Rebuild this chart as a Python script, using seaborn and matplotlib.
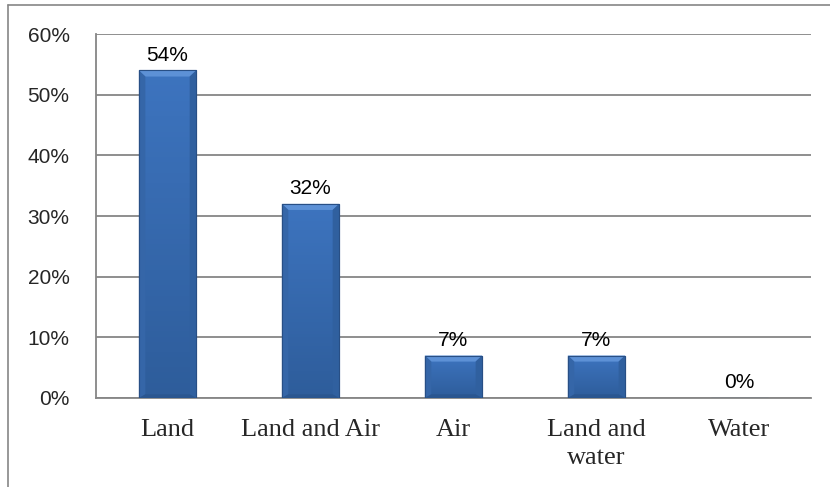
import matplotlib
matplotlib.use("Agg")
import matplotlib.pyplot as plt
import matplotlib.ticker as mtick
from matplotlib.lines import Line2D
from matplotlib.patches import Polygon
from matplotlib.colors import LinearSegmentedColormap
import numpy as np
import pandas as pd
import seaborn as sns

# Data
categories = ["Land", "Land and Air", "Air", "Land and\nwater", "Water"]
shares = [54, 32, 7, 7, 0]
bar_labels = ["54%", "32%", "7%", "7%", "0%"]
y_ticks = [0, 10, 20, 30, 40, 50, 60]

df = pd.DataFrame({"mode": categories, "share": shares})

sns.set_style("white")
plt.rcParams["font.family"] = ["Liberation Sans", "DejaVu Sans"]

grey = "#868686"

fig = plt.figure(figsize=(8.3, 4.87), dpi=100)
ax = fig.add_axes([0.1157, 0.1828, 0.977 - 0.1157, 0.930 - 0.1828])

sns.barplot(data=df, x="mode", y="share", color="#3A6EB6", width=0.4,
            saturation=1, edgecolor="#2a5a96", linewidth=0.8, ax=ax, zorder=3)

# bevelled look like the Excel original
body = LinearSegmentedColormap.from_list("body", ["#2e5d9b", "#3d74bf"])
dx, dy = 0.045, 1.0
for patch in ax.patches:
    x0, y0 = patch.get_x(), patch.get_y()
    w, h = patch.get_width(), patch.get_height()
    if h <= 0:
        continue
    x1, y1 = x0 + w, y0 + h
    im = ax.imshow(np.linspace(0, 1, 64).reshape(-1, 1), cmap=body, aspect="auto",
                   origin="lower", extent=[x0, x1, y0, y1], zorder=3.5)
    im.set_clip_path(patch)
    bevels = [
        ([(x0, y1), (x1, y1), (x1 - dx, y1 - dy), (x0 + dx, y1 - dy)], "#5d91d6"),
        ([(x0, y1), (x0 + dx, y1 - dy), (x0 + dx, y0 + dy * 0.6), (x0, y0)], "#3566a8"),
        ([(x1, y1), (x1 - dx, y1 - dy), (x1 - dx, y0 + dy * 0.6), (x1, y0)], "#30609f"),
        ([(x0, y0), (x0 + dx, y0 + dy * 0.6), (x1 - dx, y0 + dy * 0.6), (x1, y0)], "#2a5690"),
    ]
    for pts, c in bevels:
        ax.add_patch(Polygon(pts, closed=True, facecolor=c, edgecolor="none", zorder=3.7))
    ax.add_patch(Polygon([(x0, y0), (x0, y1), (x1, y1), (x1, y0)], closed=True,
                         facecolor="none", edgecolor="#284f85", linewidth=0.8, zorder=3.8))

for i, (v, lab) in enumerate(zip(shares, bar_labels)):
    ax.annotate(lab, (i, v), xytext=(0, 4), textcoords="offset points",
                ha="center", va="bottom", fontsize=15, color="black", zorder=5)

ax.set_xlim(-0.5, len(categories) - 0.5)
ax.set_ylim(0, 60)
ax.set_yticks(y_ticks)
ax.yaxis.set_major_formatter(mtick.PercentFormatter(decimals=0))
ax.grid(axis="y", color=grey, linewidth=1.3, zorder=0)
ax.set_axisbelow(True)

ax.set_xlabel("")
ax.set_ylabel("")
ax.set_xticks(range(len(categories)))
ax.set_xticklabels(categories, fontfamily="Liberation Serif", fontsize=19,
                   linespacing=1.35)
ax.set_xticks(np.arange(-0.5, len(categories)), minor=True)
ax.tick_params(axis="x", which="major", length=0, pad=15)
ax.tick_params(axis="x", which="minor", length=7, width=1.3, color=grey, direction="out")
ax.tick_params(axis="y", length=7, width=1.3, color=grey, direction="out",
               labelsize=15, pad=12)

for s in ["top", "right"]:
    ax.spines[s].set_visible(False)
for s in ["left", "bottom"]:
    ax.spines[s].set_color(grey)
    ax.spines[s].set_linewidth(1.3)

# outer chart border (clipped at right and bottom in the reference)
bx, by = 8 / 830, 1 - 5 / 487
fig.add_artist(Line2D([bx, bx], [0, by], color=grey, linewidth=1.2))
fig.add_artist(Line2D([bx, 1], [by, by], color=grey, linewidth=1.2))

fig.savefig("out.png", dpi=100)
